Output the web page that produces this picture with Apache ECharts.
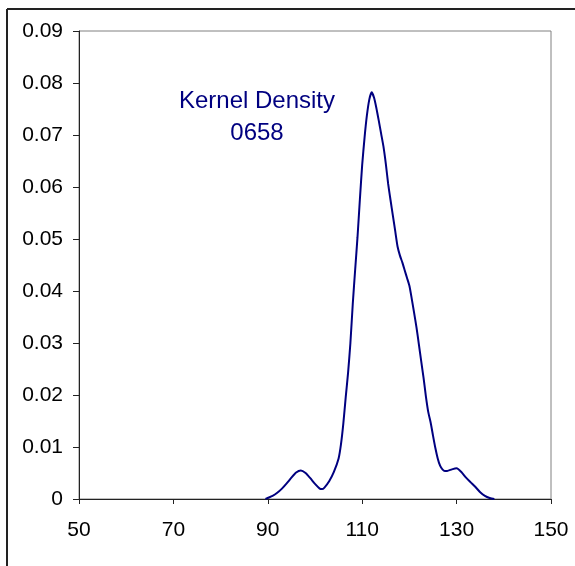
<!DOCTYPE html>
<html>
<head>
<meta charset="utf-8">
<script src="https://cdn.jsdelivr.net/npm/echarts@6/dist/echarts.min.js"></script>
<style>
html,body{margin:0;padding:0;background:#fff;}
#chart{width:575px;height:566px;}
</style>
</head>
<body>
<div id="chart"></div>
<script>
// Data
const xValues = [89.5, 90, 91, 92, 93, 94, 95, 96, 97, 98, 99, 100, 101, 101.5, 102, 103, 104, 105, 105.5, 106, 106.5, 107, 107.5, 108, 108.5, 109, 109.5, 110, 110.5, 111, 111.5, 112, 112.5, 113, 113.5, 114, 114.5, 115, 115.5, 116, 116.5, 117, 117.5, 118, 118.5, 119, 119.5, 120, 120.5, 121, 121.5, 122, 122.5, 123, 123.5, 124, 124.5, 125, 125.5, 126, 126.5, 127, 127.5, 128, 129, 130, 131, 132, 133, 134, 135, 136, 137, 138];
const densityValues = [0, 0.0002, 0.0006, 0.0012, 0.0020, 0.0030, 0.0041, 0.0051, 0.0055, 0.0050, 0.0040, 0.0029, 0.0020, 0.0019, 0.0022, 0.0034, 0.0052, 0.0078, 0.0105, 0.0145, 0.0195, 0.0242, 0.0300, 0.0375, 0.0440, 0.0503, 0.0575, 0.0643, 0.0695, 0.0738, 0.0768, 0.0782, 0.0772, 0.0752, 0.0728, 0.0703, 0.0678, 0.0645, 0.0606, 0.0575, 0.0545, 0.0515, 0.0485, 0.0468, 0.0455, 0.0440, 0.0425, 0.0410, 0.0385, 0.0358, 0.0330, 0.0298, 0.0265, 0.0233, 0.0197, 0.0167, 0.0147, 0.0122, 0.0098, 0.0078, 0.0064, 0.0057, 0.0054, 0.0054, 0.0057, 0.0059, 0.0052, 0.0041, 0.0032, 0.0023, 0.0013, 0.0006, 0.0002, 0];
const xTicks = [50, 70, 90, 110, 130, 150];
const yTicks = [0, 0.01, 0.02, 0.03, 0.04, 0.05, 0.06, 0.07, 0.08, 0.09];
const annotationLines = ['Kernel Density', '0658'];

const chart = echarts.init(document.getElementById('chart'), null, {renderer: 'canvas'});
const FONT = '"Liberation Sans", Arial, sans-serif';
const axisColor = '#222';

chart.setOption({
  animation: false,
  backgroundColor: '#fff',
  grid: {
    left: 79, top: 31, right: 24, bottom: 67,
    show: true, borderColor: '#808080', borderWidth: 1, backgroundColor: 'transparent'
  },
  xAxis: {
    type: 'value',
    min: xTicks[0], max: xTicks[xTicks.length - 1], interval: 20,
    axisLine: {show: true, onZero: false, lineStyle: {color: axisColor, width: 1}},
    axisTick: {show: true, inside: false, length: 5, lineStyle: {color: axisColor}},
    splitLine: {show: false},
    axisLabel: {color: '#000', fontSize: 21, fontFamily: FONT, margin: 21}
  },
  yAxis: {
    type: 'value',
    min: yTicks[0], max: yTicks[yTicks.length - 1], interval: 0.01,
    axisLine: {show: true, onZero: false, lineStyle: {color: axisColor, width: 1}},
    axisTick: {show: true, inside: false, length: 6, lineStyle: {color: axisColor}},
    splitLine: {show: false},
    axisLabel: {
      color: '#000', fontSize: 21, fontFamily: FONT, margin: 16,
      formatter: v => (Math.abs(v) < 1e-9 ? '0' : v.toFixed(2))
    }
  },
  series: [{
    type: 'line',
    data: xValues.map((x, i) => [x, densityValues[i]]),
    showSymbol: false,
    smooth: 0.2,
    lineStyle: {color: '#000080', width: 2},
    z: 3
  }],
  graphic: [
    {type: 'line', shape: {x1: 7, y1: 9, x2: 700, y2: 9}, style: {stroke: '#222', lineWidth: 2}},
    {type: 'line', shape: {x1: 7, y1: 9, x2: 7, y2: 700}, style: {stroke: '#222', lineWidth: 2}},
    {
      type: 'text', x: 257, y: 85,
      style: {
        text: annotationLines.join('\n'),
        fill: '#000080', font: '24px ' + FONT,
        textAlign: 'center', textVerticalAlign: 'top', lineHeight: 32
      }
    }
  ]
});
</script>
</body>
</html>
